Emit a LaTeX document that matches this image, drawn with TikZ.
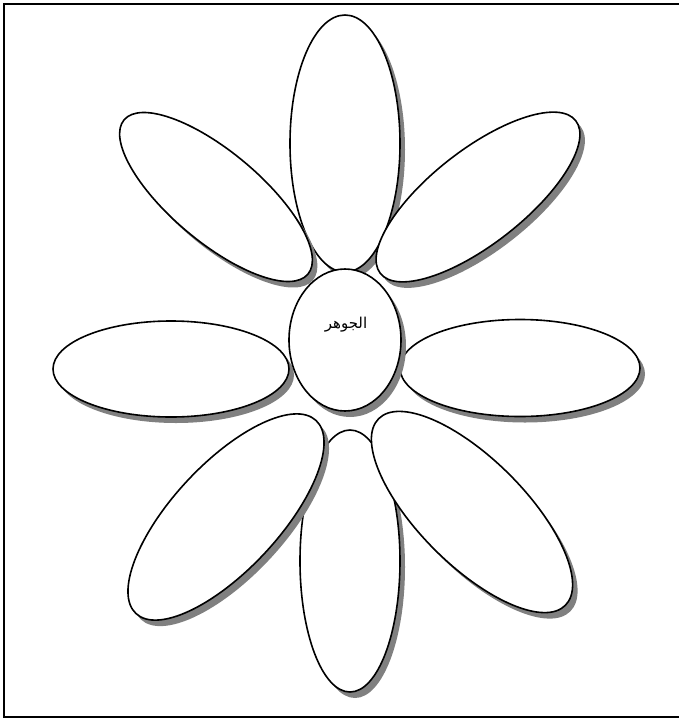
\documentclass[tikz,border=0pt]{standalone}
\usepackage{fontspec}
\usetikzlibrary{shapes.geometric}
\newfontfamily\arabicfont[Script=Arabic]{DejaVu Sans}
\TeXXeTstate=1
\begin{document}
\begin{tikzpicture}[x=1pt,y=-1pt,
  petal/.style={ellipse,draw=black,fill=white,line width=1.6pt,inner sep=0pt},
  petalshadow/.style={ellipse,fill=gray,draw=none,inner sep=0pt},
  frame/.style={draw=black,line width=2pt}]
\useasboundingbox (0,0) rectangle (679,718);
\fill[white] (0,0) rectangle (679,718);
\draw[frame] (3.5,3.5) rectangle (700,716.5);
\foreach \n/\x/\y/\w/\h/\r in {
  top/345/143.5/110/257/0,
  topleft/216/197/240/90/-40,
  topright/478/197/248/94/38,
  left/171/369/236/96/0,
  right/520/368/240/97/0,
  bottom/350/561/100/262/0,
  bottomleft/226/517/264/106/47,
  bottomright/472/512/264/106/-45,
  center/345/340/112/142/0}{
  \node[petalshadow,rotate=\r,minimum width=\w pt,minimum height=\h pt] (\n-shadow) at (\x+5,\y+6) {};
  \node[petal,rotate=\r,minimum width=\w pt,minimum height=\h pt] (\n) at (\x,\y) {};
}
\node[inner sep=0pt,font=\fontsize{15}{18}\selectfont] (label) at (346,325) {\arabicfont\beginR الجوهر\endR};
\end{tikzpicture}
\end{document}
